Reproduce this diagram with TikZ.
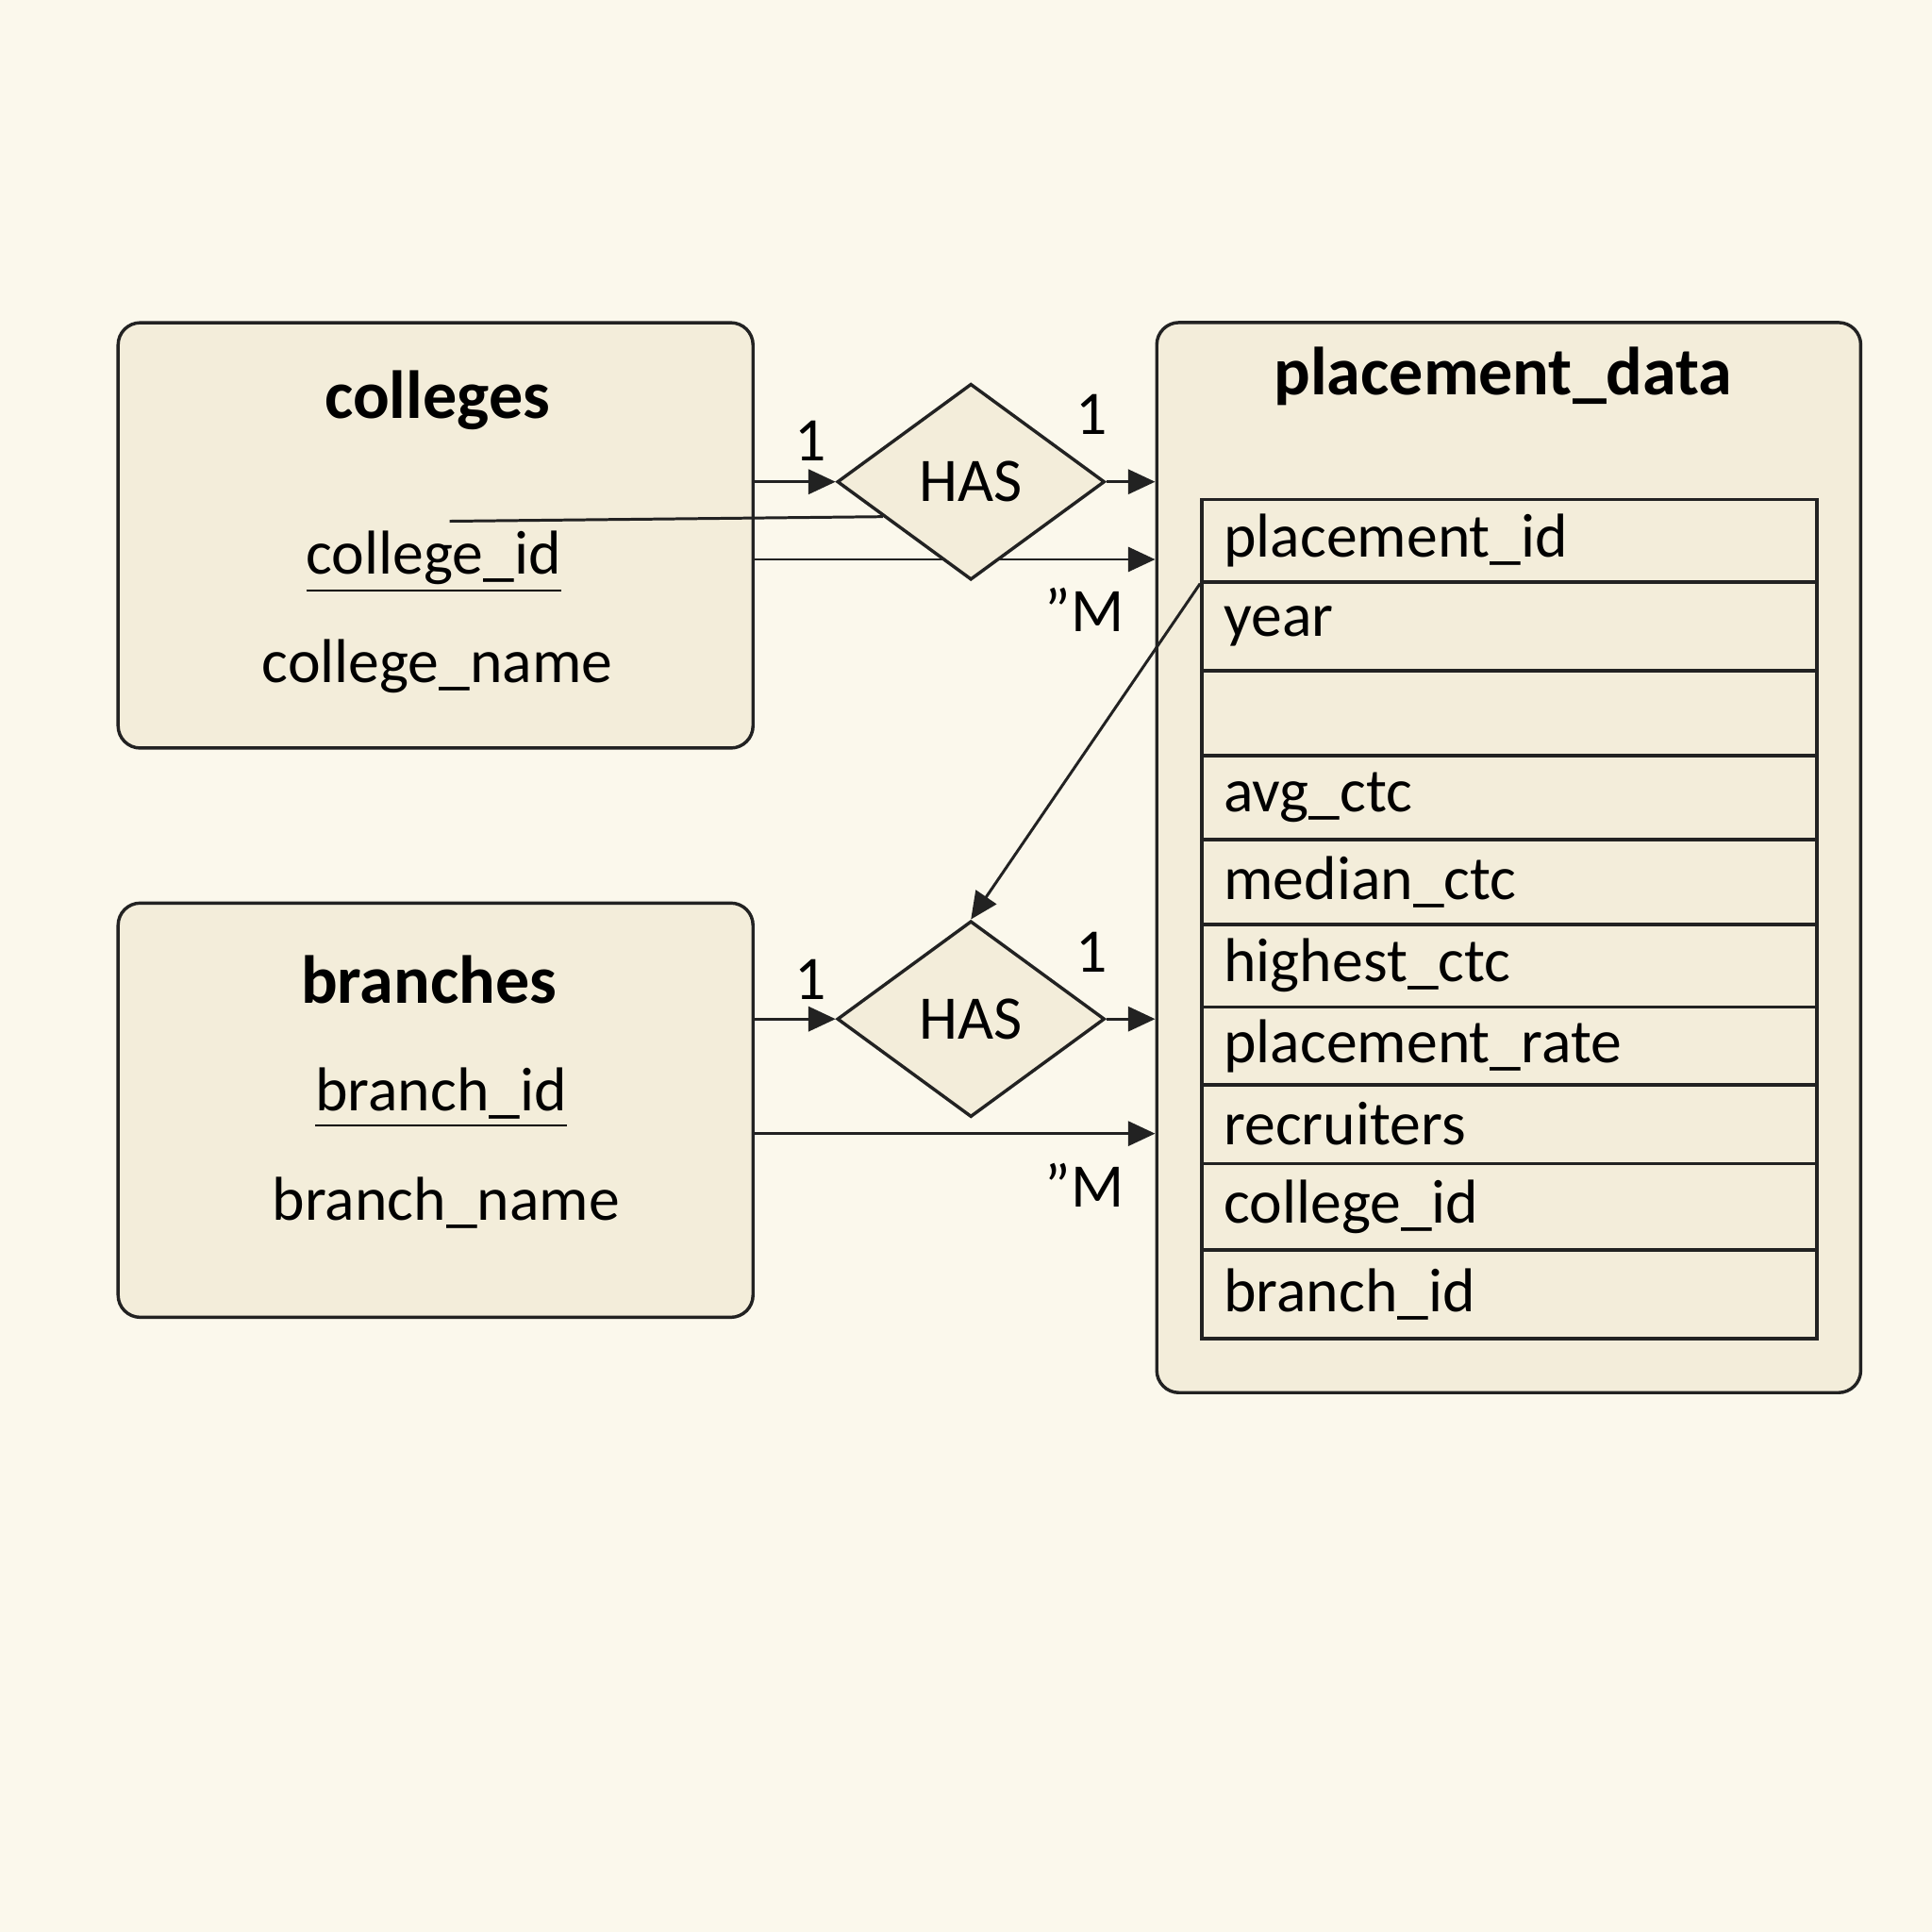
\documentclass[tikz,border=0pt]{standalone}
\usepackage{fontspec}
\setmainfont{Carlito}
\usetikzlibrary{arrows.meta,shapes.geometric,positioning,calc}
\definecolor{erbg}{RGB}{251,248,236}
\definecolor{erfill}{RGB}{243,237,218}
\definecolor{erline}{RGB}{34,34,34}
\pgfdeclarelayer{front}
\pgfsetlayers{main,front}
\tikzset{
  arrow/.style={line width=0.65pt, draw=erline, -{Triangle[length=0.22cm,width=0.2cm]}},
  link/.style={line width=0.65pt, draw=erline},
  entity/.style={rectangle, rounded corners=0.18cm, draw=erline, fill=erfill, line width=0.75pt},
  relation/.style={diamond, draw=erline, fill=erfill, line width=0.75pt, inner sep=0pt, minimum width=2.17cm, minimum height=1.59cm},
  fieldbox/.style={rectangle, draw=erline, fill=erfill, line width=0.75pt, anchor=north west, minimum width=4.99cm, text width=4.63cm, inner xsep=0.18cm, inner ysep=0pt, align=left},
  title/.style={font=\fontsize{15.7}{18}\selectfont\bfseries},
}

\begin{document}
\begin{tikzpicture}[x=0.01cm, y=-0.01cm, font=\fontsize{14.3}{17}\selectfont]
    % Background
    \fill[erbg] (0,0) rectangle (1568,1568);

    % colleges
    \node[entity, minimum width=5.15cm, minimum height=3.45cm] (colleges) at (353.5,434.5) {};
    \node[title] (ctitle) at (355,325) {colleges};
    \node (cid) at (352,456) {\underline{college\_id}};
    \node (cname) at (355,541) {college\_name};

    % branches
    \node[entity, minimum width=5.15cm, minimum height=3.36cm] (branches) at (353.5,901) {};
    \node[title] (btitle) at (348,795) {branches};
    \node (bid) at (358,891) {\underline{branch\_id}};
    \node (bname) at (362,976) {branch\_name};

    % placement_data
    \node[entity, minimum width=5.71cm, minimum height=8.68cm] (placement) at (1224.5,696) {};
    \node[title] (ptitle) at (1220,305) {placement\_data};
    \foreach \i/\txt/\ya/\yb in {1/placement\_id/404/471, 2/year/471/543, 3//543/612,
        4/avg\_ctc/612/680, 5/median\_ctc/680/749, 6/highest\_ctc/749/816,
        7/placement\_rate/816/879, 8/recruiters/879/943, 9/college\_id/943/1013,
        10/branch\_id/1013/1085} {
        \pgfmathsetmacro{\rowh}{(\yb-\ya)*0.01}
        \node[fieldbox, minimum height=\rowh cm] (f\i) at (974,\ya) {\txt};
    }

    % Relationships
    \begin{pgfonlayer}{front}
        \node[relation] (has1) at (788,391) {HAS};
        \node[relation] (has2) at (788,827) {HAS};
    \end{pgfonlayer}

    % colleges -- placement_data
    \draw[arrow] (has1.west -| colleges.east) -- (has1.west);
    \draw[arrow] (has1.east) -- (has1.east -| placement.west);
    \draw[arrow] (colleges.east |- 0,454) -- (placement.west |- 0,454);
    \coordinate (cstub) at (365,423);
    \draw[link] (cstub) -- ($(has1.west)!0.35!(has1.south)$);
    \node (c1a) at (658,358) {1};
    \node (c1b) at (886,336) {1};
    \node (cmany) at (880,495) {”M};

    % branches -- placement_data
    \draw[arrow] (has2.west -| branches.east) -- (has2.west);
    \draw[arrow] (has2.east) -- (has2.east -| placement.west);
    \draw[arrow] (branches.east |- 0,920) -- (placement.west |- 0,920);
    \draw[arrow] (f1.south west) -- (has2.north);
    \node (b1a) at (658,795) {1};
    \node (b1b) at (886,773) {1};
    \node (bmany) at (880,962) {”M};
\end{tikzpicture}
\end{document}
